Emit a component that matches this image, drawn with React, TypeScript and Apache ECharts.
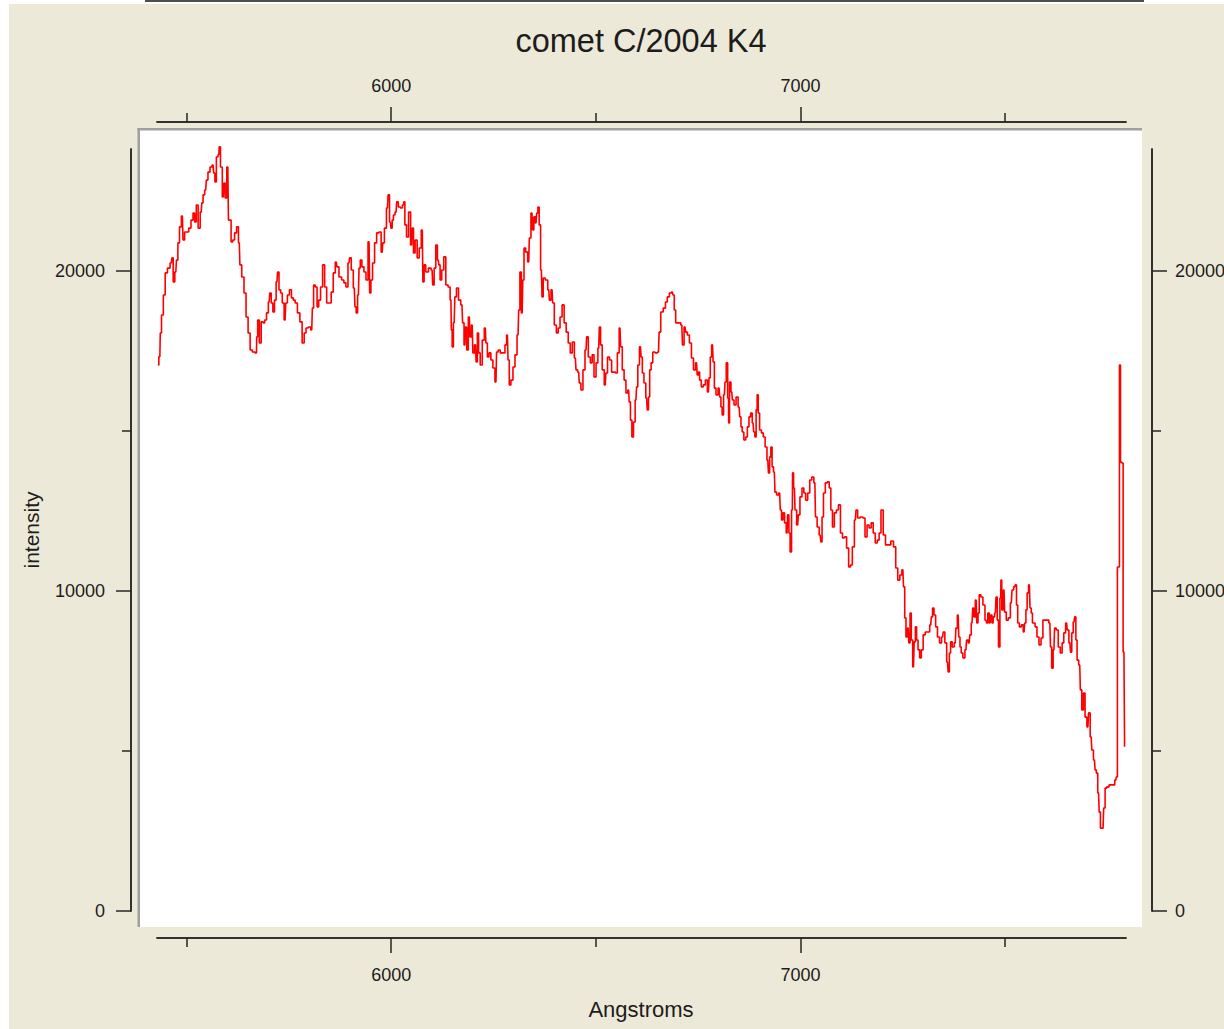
import React, { useEffect, useRef } from "react";
import * as echarts from "echarts";

// Spectrum of comet C/2004 K4: [wavelength (Angstrom), intensity]
const segA: [number, number][] = [[5430,17060],[5435,17320],[5437,18060],[5441,18625],[5446,19250],[5450,19940],[5457,20090],[5463,20250],[5466,20410],[5469,19660],[5474,19970],[5477,20340],[5481,20880],[5485,21380],[5490,21720],[5493,20970],[5498,21220],[5503,21220],[5508,21340],[5514,21590],[5518,21810],[5522,21530],[5526,22060],[5531,21340],[5536,21840],[5539,22130],[5542,22380],[5547,22530],[5550,22840],[5555,23090],[5560,23250],[5565,23310],[5568,23060],[5571,22780],[5575,23560],[5579,23630],[5581,23880],[5585,23250],[5590,22310],[5593,22750],[5596,22280],[5601,23250],[5604,21590],[5607,21590],[5611,20910],[5615,20970],[5620,21190],[5625,21380],[5629,20880],[5632,20190],[5638,19810],[5643,19310],[5648,18560],[5653,18060],[5658,17530],[5664,17470],[5671,17440],[5672,17940],[5676,18470],[5680,17750],[5685,18410],[5689,18380],[5693,18470],[5698,18690],[5702,19030],[5705,19310],[5709,19000],[5713,18720],[5717,19090],[5721,19660],[5724,19970],[5728,19410],[5732,19310],[5736,19000],[5741,18470],[5744,19000],[5749,19250],[5754,19410],[5759,19160],[5763,19090],[5768,19000],[5774,18690],[5780,18410],[5785,17750],[5790,18060],[5794,18220],[5801,18250],[5806,18160],[5809,18840],[5812,19560],[5817,19500],[5821,18880],[5825,19090],[5830,19500],[5835,20190],[5840,19500],[5845,19000],[5851,19000],[5856,19340],[5861,19940],[5866,20280],[5869,20130],[5876,19810],[5882,19720],[5887,19630],[5892,19500],[5897,20250],[5900,20410],[5905,20030],[5910,19470],[5913,18880],[5916,18690],[5920,19250],[5923,20090],[5926,20340],[5931,20130],[5936,19970],[5941,19720],[5946,20910],[5949,19310],[5952,19720],[5957,20250],[5962,20880],[5967,21190],[5973,21220],[5978,20590],[5981,20880],[5986,21340],[5991,21970],[5994,22380],[5998,21530],[6001,21340],[6004,21590],[6007,21750],[6012,21840],[6015,22160],[6020,22000],[6025,21970],[6030,22060]];

const segB: [number, number][] = [[6032,22160],[6035,21440],[6040,21060],[6045,21840],[6050,20810],[6053,21340],[6056,20560],[6061,20970],[6066,20410],[6071,20720],[6076,21280],[6079,19660],[6082,20190],[6087,19970],[6095,20090],[6100,20030],[6103,19560],[6107,20090],[6111,20810],[6115,20340],[6118,20190],[6121,19720],[6126,20030],[6131,20440],[6136,19560],[6142,19500],[6146,19090],[6148,18160],[6150,17630],[6154,18380],[6157,19190],[6162,19470],[6167,19090],[6173,18940],[6176,18380],[6180,17690],[6183,18250],[6186,17530],[6191,18560],[6194,17940],[6198,18310],[6201,17440],[6206,17690],[6209,17160],[6212,18060],[6215,17440],[6220,17060],[6225,17840],[6230,18220],[6233,17750],[6237,17310],[6241,17440],[6246,17220],[6251,16970],[6256,16530],[6259,17470],[6264,17530],[6269,17440],[6276,17440],[6280,17690],[6284,18000],[6287,17220],[6290,16440],[6295,16590],[6300,17000],[6305,17380],[6310,18000],[6313,18780],[6316,19970],[6320,18690],[6323,19720],[6326,20720],[6331,20590],[6336,20280],[6339,21030],[6344,21810],[6347,21280],[6350,21690],[6354,21500],[6357,21810],[6360,22000],[6363,21440],[6367,20030],[6370,19190],[6373,19780],[6380,19720],[6385,19410],[6388,19090],[6393,19410],[6396,19000],[6401,18310],[6406,18060],[6410,18220],[6415,18560],[6420,18940],[6425,18380],[6430,18090],[6435,17750],[6440,17440],[6445,17780],[6450,17280],[6453,16910],[6458,16840],[6461,16500],[6466,16280],[6471,16910],[6476,17530],[6479,17940],[6484,17310],[6489,17130],[6493,17380],[6498,16690],[6503,17130],[6507,17590],[6510,18250],[6513,17690],[6518,16910],[6523,16440],[6526,16810],[6531,17310],[6536,17220],[6541,16840],[6546,16840],[6550,16810],[6555,17440],[6559,18220],[6562,17630],[6567,16910],[6571,16590],[6576,16190],[6580,16280],[6583,15910],[6586,15340],[6590,14810],[6594,15280],[6598,15970],[6601,16380],[6604,17060],[6609,17630],[6612,17310],[6615,16810],[6620,16500],[6624,16030],[6627,15660],[6630,16060]];

const segC: [number, number][] = [[6633,16910],[6637,17130],[6641,17470],[6648,17440],[6653,17470],[6656,18090],[6661,18720],[6668,18840],[6672,19030],[6677,19190],[6682,19310],[6687,19340],[6690,19250],[6693,18780],[6697,18380],[6705,18380],[6710,18310],[6713,17690],[6718,18250],[6721,18090],[6726,18000],[6731,17750],[6736,17280],[6741,16910],[6746,17130],[6749,16750],[6752,16840],[6755,16590],[6760,16380],[6765,16440],[6770,16590],[6775,16220],[6778,16660],[6781,17310],[6785,17690],[6788,17160],[6791,16340],[6796,16130],[6801,16340],[6804,16060],[6807,15750],[6810,15500],[6814,16130],[6817,16530],[6820,17130],[6824,16030],[6825,15250],[6828,16530],[6832,16220],[6835,15970],[6840,15810],[6845,16060],[6850,15750],[6853,15440],[6856,15130],[6859,14970],[6864,14720],[6868,14810],[6872,15130],[6876,15440],[6880,15560],[6884,15250],[6887,14970],[6890,14810],[6893,15660],[6895,16130],[6898,15560],[6902,15030],[6907,14940],[6911,14810],[6916,14500],[6920,14090],[6923,13690],[6926,14190],[6929,14500],[6932,13880],[6936,13720],[6939,13090],[6944,13000],[6949,13060],[6952,12530],[6955,12220],[6959,12440],[6963,12130],[6967,11810],[6970,12380],[6973,11810],[6976,11220],[6980,12530],[6981,13690],[6985,13220],[6988,12530],[6993,12060],[6996,12380],[7001,12940],[7006,13220],[7010,13060],[7015,12840],[7020,13060],[7025,13470],[7030,13560],[7035,13380],[7038,12310],[7043,12000],[7048,11750],[7051,11530],[7054,12310],[7058,13060],[7063,13380],[7068,13410],[7072,13220],[7076,12530],[7080,12000],[7085,12440],[7090,12530],[7095,12690],[7100,11810],[7105,11660],[7110,11690],[7115,11340],[7120,10750],[7124,10810],[7129,11380],[7134,12220],[7137,12530],[7142,12280],[7149,12310],[7155,12280],[7160,11690],[7165,12060],[7170,11970],[7175,12130],[7180,11810],[7185,11500],[7190,11590],[7194,11810],[7199,12530]];

const segD: [number, number][] = [[7205,11750],[7210,11440],[7217,11440],[7224,11560],[7230,11380],[7235,10720],[7240,10340],[7245,10500],[7250,10660],[7253,10130],[7256,9160],[7259,8560],[7263,8840],[7266,8380],[7269,9310],[7272,8470],[7276,7630],[7279,8410],[7282,8880],[7285,8470],[7289,8160],[7293,7910],[7297,8160],[7302,8630],[7307,8720],[7313,8720],[7318,8940],[7321,9190],[7324,9470],[7328,9250],[7332,8880],[7337,8560],[7342,8380],[7347,8560],[7350,8720],[7355,8380],[7359,7780],[7362,7470],[7365,8060],[7368,8410],[7373,8250],[7378,8380],[7381,8840],[7385,9250],[7388,8560],[7391,8250],[7394,8060],[7399,7910],[7404,8160],[7407,8470],[7412,8380],[7415,8630],[7419,9000],[7422,9470],[7425,9190],[7429,9720],[7432,9000],[7435,9310],[7438,9880],[7443,9810],[7448,9560],[7453,9090],[7456,9000],[7459,9310],[7463,9000],[7466,9250],[7469,9000],[7472,9190],[7476,9310],[7479,9810],[7482,9090],[7485,8250],[7489,9780],[7490,10340],[7493,9410],[7497,10030],[7500,9340],[7505,9090],[7510,9160],[7515,9630],[7518,10030],[7523,10130],[7526,10190],[7529,9560],[7532,9000],[7537,8880],[7542,8940],[7546,8720],[7549,9000],[7552,9410],[7555,9940],[7559,10190],[7562,9470],[7565,9310],[7568,9000],[7571,9000],[7575,8880],[7580,8560],[7585,8310],[7590,8530],[7594,9090],[7599,9090],[7604,9090],[7609,9000],[7612,8250],[7615,7590],[7619,8160],[7622,8840],[7627,8780],[7632,8250],[7637,8060],[7641,8380],[7645,8690],[7650,9000],[7653,8780],[7658,8380],[7661,8090],[7664,8690],[7668,9030],[7671,9190],[7674,8470],[7677,7840],[7682,7690],[7685,6910],[7689,6280],[7693,6810],[7697,6060],[7702,5750],[7705,6190],[7710,5440],[7713,5030],[7718,4720],[7721,4410],[7724,4310],[7728,3690],[7731,3090],[7734,2590],[7739,2590],[7742,3220],[7746,3840],[7750,3880],[7757,3940],[7765,3940],[7770,4090],[7773,4190],[7775,10750],[7778,10750],[7780,17060],[7783,14030],[7786,14000],[7790,8090],[7793,5130]];

const xMajorTicks = [6000, 7000];
const xMinorTicks = [5500, 6500, 7500];
const yMajorTicks = [0, 10000, 20000];
const yMinorTicks = [5000, 15000];
const xRange = [5428, 7795];
const yRange = [0, 23812];

const titleText = "comet C/2004 K4";
const xName = "Angstroms";
const yName = "intensity";

export default function App() {
  const ref = useRef<HTMLDivElement>(null);

  useEffect(() => {
    const chart = echarts.init(ref.current!, null, { renderer: "svg" });
    const spectrum = [...segA, ...segB, ...segC, ...segD];

    const axisColor = "#262626";
    const textColor = "#1c1c1c";
    const tickFont = "'Liberation Sans', Arial, sans-serif";
    const tickSize = 18;
    const grid = { left: 157, right: 98, top: 149, bottom: 118, outerBoundsMode: "none" };

    const makeX = (position: string, gridIndex: number, ticks: number[], len: number, labels: boolean, margin: number) => ({
      type: "value",
      gridIndex,
      position,
      offset: 27,
      min: xRange[0],
      max: xRange[1],
      axisLine: { show: true, onZero: false, lineStyle: { color: axisColor, width: 1.5 } },
      axisTick: { show: true, customValues: ticks, length: len, lineStyle: { color: axisColor, width: 1.5 } },
      axisLabel: labels
        ? { show: true, customValues: ticks, margin, formatter: (v: number) => String(v), color: textColor, fontFamily: tickFont, fontSize: tickSize }
        : { show: false },
      splitLine: { show: false },
    });
    const makeY = (position: string, gridIndex: number, ticks: number[], len: number, labels: boolean, margin: number) => ({
      type: "value",
      gridIndex,
      position,
      offset: 26,
      min: yRange[0],
      max: yRange[1],
      axisLine: { show: true, onZero: false, lineStyle: { color: axisColor, width: 1.5 } },
      axisTick: { show: true, customValues: ticks, length: len, lineStyle: { color: axisColor, width: 1.5 } },
      axisLabel: labels
        ? { show: true, customValues: ticks, margin, formatter: (v: number) => String(v), color: textColor, fontFamily: tickFont, fontSize: tickSize }
        : { show: false },
      splitLine: { show: false },
    });

    chart.setOption({
      animation: false,
      backgroundColor: "transparent",
      graphic: [
        { type: "rect", z: -100, silent: true, shape: { x: 9, y: 4, width: 1215, height: 1025 }, style: { fill: "#ECE9D8" } },
        { type: "rect", z: -100, silent: true, shape: { x: 145, y: 0, width: 999, height: 2 }, style: { fill: "#4d4d4d" } },
        { type: "rect", z: -99, silent: true, shape: { x: 140, y: 130, width: 1002, height: 797 }, style: { fill: "#ffffff" } },
        { type: "rect", z: -99, silent: true, shape: { x: 137.5, y: 128, width: 2.5, height: 799 }, style: { fill: "#9f9f9f" } },
        { type: "rect", z: -99, silent: true, shape: { x: 137.5, y: 128, width: 1004.5, height: 2.5 }, style: { fill: "#9f9f9f" } },
        {
          type: "text", x: 641, y: 41, silent: true,
          style: { text: titleText, fill: textColor, fontSize: 32.5, fontFamily: "'Liberation Sans', Arial, sans-serif", align: "center", verticalAlign: "middle" },
        },
        {
          type: "text", x: 641, y: 1009, silent: true,
          style: { text: xName, fill: textColor, fontSize: 22, fontFamily: "'Liberation Sans', Arial, sans-serif", align: "center", verticalAlign: "middle" },
        },
        {
          type: "text", x: 31, y: 530, rotation: Math.PI / 2, silent: true,
          style: { text: yName, fill: textColor, fontSize: 21, fontFamily: "'Liberation Sans', Arial, sans-serif", align: "center", verticalAlign: "middle" },
        },
      ],
      grid: [grid, { ...grid }],
      xAxis: [
        makeX("bottom", 0, xMajorTicks, 15, true, 28),
        makeX("top", 0, xMajorTicks, 15, true, 27),
        makeX("bottom", 1, xMinorTicks, 9, false, 0),
        makeX("top", 1, xMinorTicks, 9, false, 0),
      ],
      yAxis: [
        makeY("left", 0, yMajorTicks, 15, true, 26),
        makeY("right", 0, yMajorTicks, 15, true, 23),
        makeY("left", 1, yMinorTicks, 9, false, 0),
        makeY("right", 1, yMinorTicks, 9, false, 0),
      ],
      series: [
        {
          type: "line",
          xAxisIndex: 0,
          yAxisIndex: 0,
          data: spectrum,
          step: "middle",
          showSymbol: false,
          symbol: "none",
          clip: false,
          lineStyle: { color: "#ff0000", width: 1.6 },
          emphasis: { disabled: true },
        },
      ],
    });

    return () => chart.dispose();
  }, []);

  return (
    <div
      ref={ref}
      style={{ position: "absolute", left: 0, top: 0, width: 1224, height: 1029, background: "#ffffff" }}
    />
  );
}
